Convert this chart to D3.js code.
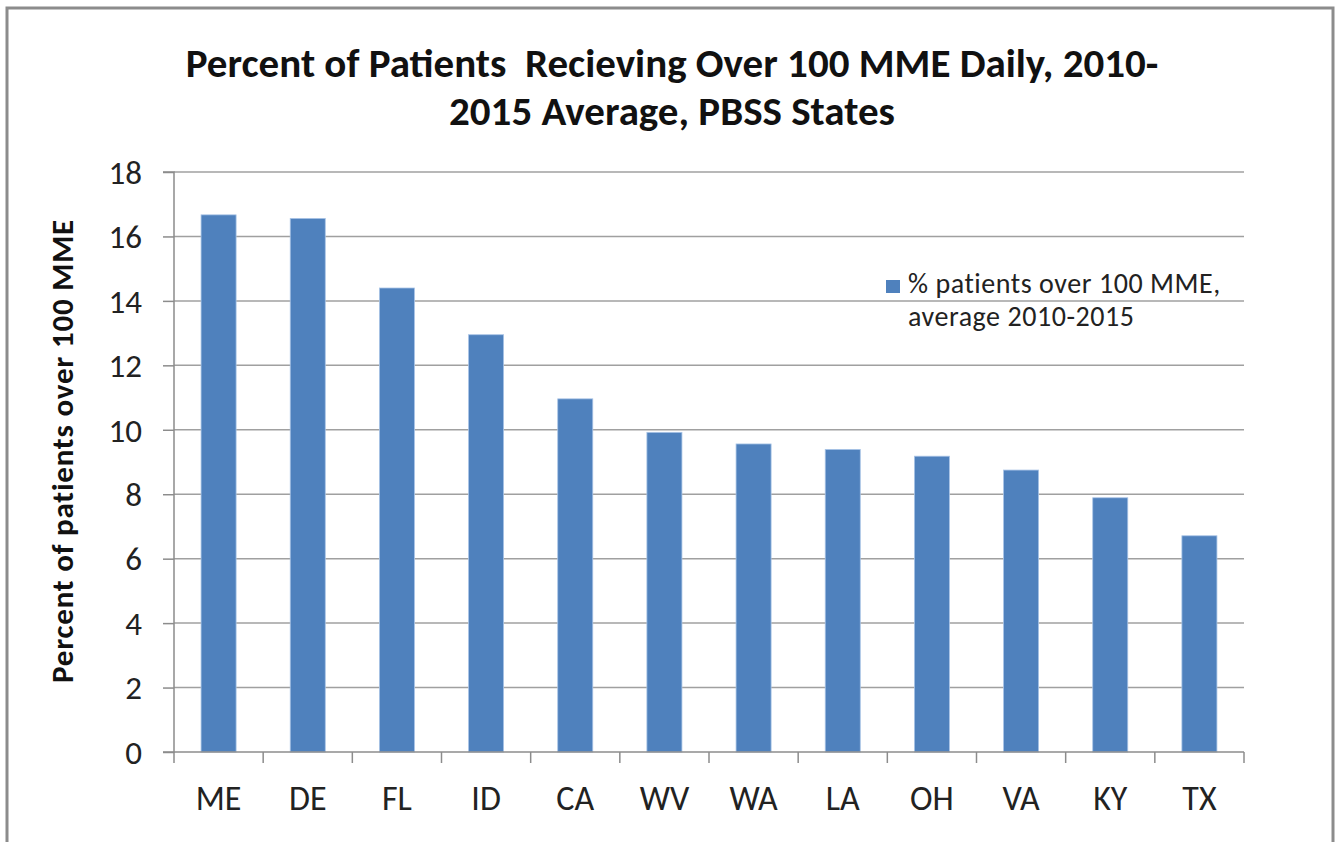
<!DOCTYPE html>
<html><head><meta charset="utf-8">
<script src="https://cdn.jsdelivr.net/npm/d3@7"></script>
<style>body{margin:0;background:#fff;} svg{display:block;} text{white-space:pre;}</style>
</head><body>
<svg id="c" width="1338" height="842"></svg>
<script>
const categories = ["ME","DE","FL","ID","CA","WV","WA","LA","OH","VA","KY","TX"];
const values = [16.67,16.56,14.40,12.95,10.96,9.92,9.56,9.39,9.18,8.75,7.89,6.71];
const yTicks = [0,2,4,6,8,10,12,14,16,18];
const titleLines = ["Percent of Patients  Recieving Over 100 MME Daily, 2010-","2015 Average, PBSS States"];
const yLabel = "Percent of patients over 100 MME";
const legendLines = ["% patients over 100 MME,","average 2010-2015"];

const svg = d3.select("#c");
const font = "Calibri, Carlito, 'Liberation Sans', Arial, sans-serif";
const m = {l:174, r:1244, t:172, b:752};

// outer frame
svg.append("rect").attr("x",7).attr("y",8).attr("width",1326).attr("height",850)
  .attr("fill","#fff").attr("stroke","#8c8c8c").attr("stroke-width",3);

const x = d3.scaleBand().domain(categories).range([m.l,m.r]).paddingInner(0.607).paddingOuter(0.3035);
const y = d3.scaleLinear().domain([0,18]).range([m.b,m.t]);

// gridlines
svg.append("g").selectAll("line").data(yTicks.filter(d=>d>0)).join("line")
  .attr("x1",m.l).attr("x2",m.r).attr("y1",d=>y(d)).attr("y2",d=>y(d))
  .attr("stroke","#a0a0a0").attr("stroke-width",1.5);

// bars
svg.append("g").selectAll("rect").data(values).join("rect")
  .attr("x",(d,i)=>x(categories[i])).attr("width",x.bandwidth())
  .attr("y",d=>y(d)).attr("height",d=>y(0)-y(d))
  .attr("fill","#4f81bd").attr("stroke","#a9c4e6").attr("stroke-width",0.8);

// y axis
const ya = svg.append("g").attr("transform",`translate(${m.l},0)`)
  .call(d3.axisLeft(y).tickValues(yTicks).tickSize(11).tickPadding(21));
ya.select(".domain").attr("stroke","#8c8c8c").attr("stroke-width",1.5).attr("d",`M-11,${m.t}H0V${m.b}H-11`);
ya.selectAll(".tick line").attr("stroke","#8c8c8c").attr("stroke-width",1.5);
ya.selectAll(".tick text").attr("font-family",font).attr("font-size",33).attr("fill","#222").attr("dy","0.34em");

// x axis
const xa = svg.append("g").attr("transform",`translate(0,${m.b})`)
  .call(d3.axisBottom(x).tickSize(0));
xa.select(".domain").attr("stroke","#8c8c8c").attr("stroke-width",1.5).attr("d",`M${m.l},0H${m.r}`);
xa.selectAll(".tick text").attr("font-family",font).attr("font-size",34).attr("fill","#222")
  .attr("y",58).attr("dy",0);
const step = x.step();
svg.append("g").selectAll("line").data(d3.range(categories.length+1)).join("line")
  .attr("x1",i=>m.l+i*step).attr("x2",i=>m.l+i*step).attr("y1",m.b).attr("y2",m.b+11)
  .attr("stroke","#8c8c8c").attr("stroke-width",1.5);

// title
svg.append("g").selectAll("text").data(titleLines).join("text")
  .attr("x",672).attr("y",(d,i)=>77+i*48).attr("text-anchor","middle")
  .attr("font-family",font).attr("font-weight","bold").attr("font-size",41).attr("fill","#111")
  .text(d=>d);

// y label
svg.append("text").attr("transform","translate(73,451) rotate(-90)").attr("text-anchor","middle")
  .attr("font-family",font).attr("font-weight","bold").attr("font-size",31).attr("letter-spacing",0.8).attr("fill","#111")
  .text(yLabel);

// legend
svg.append("rect").attr("x",886).attr("y",280).attr("width",14).attr("height",13).attr("fill","#4f81bd");
svg.append("g").selectAll("text").data(legendLines).join("text")
  .attr("x",908).attr("y",(d,i)=>293+i*33)
  .attr("font-family",font).attr("font-size",28).attr("letter-spacing",0.55).attr("fill","#222").text(d=>d);
</script>
</body></html>
